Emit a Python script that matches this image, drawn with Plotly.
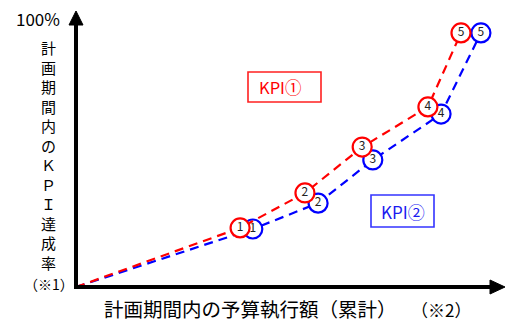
import plotly.graph_objects as go

# ---- data ----
point_labels = ["1", "2", "3", "4", "5"]
kpi1_x = [0, 38.7, 54.0, 67.5, 83.0, 90.8]
kpi1_y = [0, 21.5, 34.2, 50.9, 65.5, 92.4]
kpi2_x = [0, 41.7, 57.1, 70.0, 86.1, 95.5]
kpi2_y = [0, 21.1, 30.5, 46.2, 62.9, 92.4]

y_title_chars = list("計画期間内のＫＰＩ達成率")
y_top_label = "100%"
y_note = "（※1）"
x_title = "計画期間内の予算執行額（累計）"
x_note = "（※2）"
kpi1_name = "KPI①"
kpi2_name = "KPI②"

RED = "#FF0000"
BLUE = "#0000FF"
FONT = "Noto Sans CJK JP"

W, H = 509, 322
# plot area in page pixels: x 76..500, y 12..287
L, R = 76, W - 500
T, B = 12, H - 287
PW, PH = W - L - R, H - T - B


def px(x):
    return (x - L) / PW


def py(y):
    return (H - B - y) / PH


fig = go.Figure()

for xs, ys, col in [(kpi2_x, kpi2_y, BLUE), (kpi1_x, kpi1_y, RED)]:
    fig.add_trace(go.Scatter(
        x=xs, y=ys, mode="lines",
        line=dict(color=col, width=2.2, dash="9px,6px"),
        hoverinfo="skip", showlegend=False,
    ))
    fig.add_trace(go.Scatter(
        x=xs[1:], y=ys[1:], mode="markers+text",
        text=point_labels, textposition="middle center",
        textfont=dict(family=FONT, size=12, color="#222222"),
        marker=dict(size=19, color="white", line=dict(color=col, width=2.2)),
        hoverinfo="skip", showlegend=False,
    ))

shapes = [
    # y axis
    dict(type="line", xref="paper", yref="paper", x0=px(76), x1=px(76),
         y0=py(289), y1=py(24), line=dict(color="black", width=4)),
    dict(type="path", xref="paper", yref="paper",
         path=f"M {px(69)} {py(25)} L {px(83)} {py(25)} L {px(76)} {py(11)} Z",
         fillcolor="black", line=dict(color="black", width=1)),
    # x axis
    dict(type="line", xref="paper", yref="paper", x0=px(74), x1=px(492),
         y0=py(287), y1=py(287), line=dict(color="black", width=4)),
    dict(type="path", xref="paper", yref="paper",
         path=f"M {px(490)} {py(280)} L {px(490)} {py(294)} L {px(505)} {py(287)} Z",
         fillcolor="black", line=dict(color="black", width=1)),
    # label boxes
    dict(type="rect", xref="paper", yref="paper", x0=px(248), x1=px(321),
         y0=py(102), y1=py(72), line=dict(color="#FF2020", width=1.6),
         fillcolor="white", layer="below"),
    dict(type="rect", xref="paper", yref="paper", x0=px(371), x1=px(434),
         y0=py(227), y1=py(195), line=dict(color="#3434FF", width=1.6),
         fillcolor="white", layer="below"),
]


def txt(s, x, y, size, color="black"):
    return dict(text=s, x=px(x), y=py(y), xref="paper", yref="paper",
                showarrow=False, font=dict(family=FONT, size=size, color=color),
                xanchor="center", yanchor="middle", borderpad=0)


annotations = [
    txt(y_top_label, 38, 18, 17),
    txt("<br>".join(y_title_chars), 48, 155, 15),
    txt(y_note, 49, 284, 14),
    txt(x_title, 250, 308.5, 19.5),
    txt(x_note, 441, 309.5, 17),
    txt(kpi1_name, 280, 87, 16.5, RED),
    txt(kpi2_name, 402.5, 211, 17, "#1A1AF0"),
]

fig.update_layout(
    width=W, height=H,
    margin=dict(l=L, r=R, t=T, b=B),
    paper_bgcolor="white", plot_bgcolor="white",
    xaxis=dict(range=[0, 100], visible=False, fixedrange=True),
    yaxis=dict(range=[0, 100], visible=False, fixedrange=True),
    shapes=shapes, annotations=annotations,
    showlegend=False,
)

fig.write_html("out.html", config={"displayModeBar": False},
               post_script="document.body.style.margin='0';")
